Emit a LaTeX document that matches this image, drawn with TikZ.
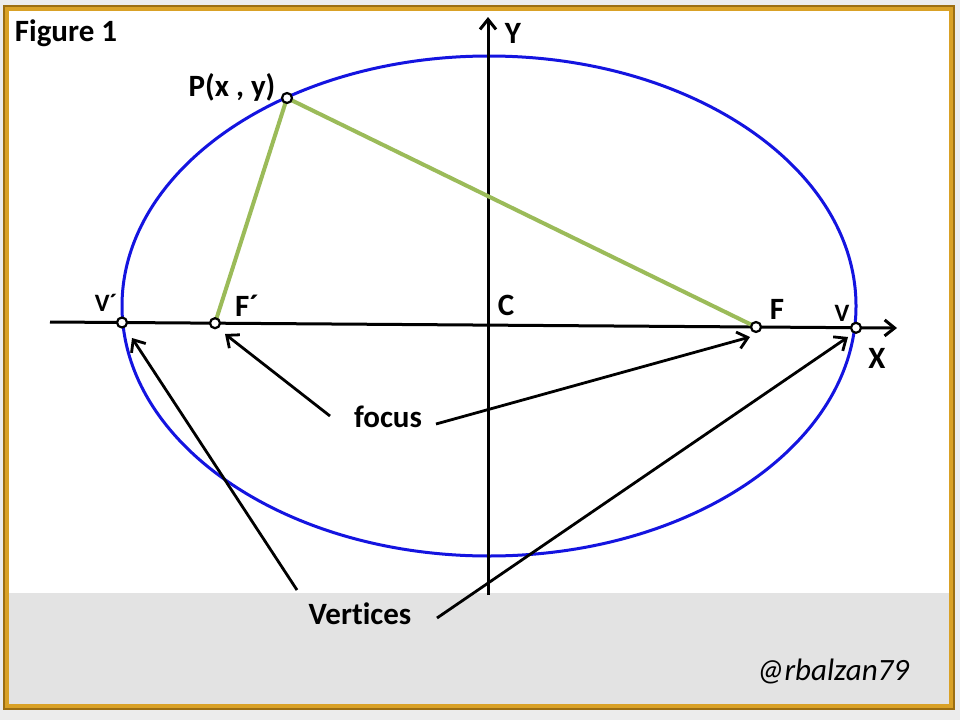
\documentclass[tikz,border=0pt]{standalone}
\usepackage{fontspec}
\setmainfont{Carlito}[Ligatures={NoCommon}]
\usetikzlibrary{arrows.meta}
\definecolor{gold}{HTML}{D9A126}
\definecolor{golddark}{HTML}{9C6E12}
\definecolor{band}{HTML}{E3E3E3}
\definecolor{outside}{HTML}{ECECEC}
\definecolor{ellblue}{HTML}{1414E0}
\definecolor{seggreen}{HTML}{9BBB59}
\tikzset{
  lbl/.style={font=\fontsize{31}{32}\selectfont\bfseries, inner sep=0pt},
  small/.style={font=\fontsize{25}{26}\selectfont\bfseries, inner sep=0pt},
  dot/.style={circle, draw=black, fill=white, line width=2.2pt, minimum size=10pt, inner sep=0pt},
  axis/.style={line width=3pt, -{Straight Barb[length=10pt,width=16pt,line width=3pt]}},
  pointer/.style={line width=2.8pt, -{Straight Barb[length=10pt,width=17pt,line width=2.8pt]}},
  seg/.style={line width=4pt, seggreen},
}
\begin{document}
\begin{tikzpicture}[x=1pt,y=-1pt]
\useasboundingbox (0,0) rectangle (960,720);
% backgrounds
\fill[outside] (0,0) rectangle (960,720);
\fill[white] (6,8) rectangle (952,593);
\fill[band] (6,593) rectangle (952,707);
% frame
\draw[golddark, line width=2pt] (4,6) rectangle (954,709);
\draw[gold, line width=4pt] (7,9) rectangle (951,706);
% ellipse
\draw[ellblue, line width=3pt] (489,306) ellipse [x radius=367, y radius=250];
% axes
\coordinate (xs) at (50,322);
\coordinate (xe) at (897,328);
\coordinate (ys) at (488,595);
\coordinate (ye) at (488,17);
\draw[axis] (xs) -- (xe);
\draw[axis] (ys) -- (ye);
% points
\coordinate (Pc) at (287,98);
\coordinate (Fpc) at (215,323.2);
\coordinate (Fc) at (756,327);
\draw[seg] (Pc) -- (Fpc);
\draw[seg] (Pc) -- (Fc);
\node[dot] (P) at (Pc) {};
\node[dot] (Fp) at (Fpc) {};
\node[dot] (F) at (Fc) {};
\node[dot] (Vp) at (122,322.5) {};
\node[dot] (V) at (856,327.8) {};
% labels
\node[lbl] (fig) at (66,33) {Figure 1};
\node[lbl] (Plbl) at (232,87) {P(x , y)};
\node[lbl] (Ylbl) at (513,33) {Y};
\node[lbl] (Clbl) at (506,305) {C};
\node[lbl] (Flbl) at (777,309) {F};
\node[small] (Vlbl) at (842,313) {V};
\node[lbl] (Xlbl) at (877,358) {X};
\node[small] (Vplbl) at (106,303) {V´};
\node[lbl] (Fplbl) at (247,306) {F´};
\node[lbl] (focus) at (388,417) {focus};
\node[lbl] (vert) at (360,614) {Vertices};
\node[font=\fontsize{31}{32}\selectfont\itshape, inner sep=0pt] (sig) at (833,671) {@rbalzan79};
% pointers
\coordinate (f1) at (330,416);
\coordinate (f2) at (436,424);
\coordinate (v1) at (297,590);
\coordinate (v2) at (437,618);
\draw[pointer] (f1) -- (225,334);
\draw[pointer] (f2) -- (750,337);
\draw[pointer] (v1) -- (132,338);
\draw[pointer] (v2) -- (848,337);
\end{tikzpicture}
\end{document}
